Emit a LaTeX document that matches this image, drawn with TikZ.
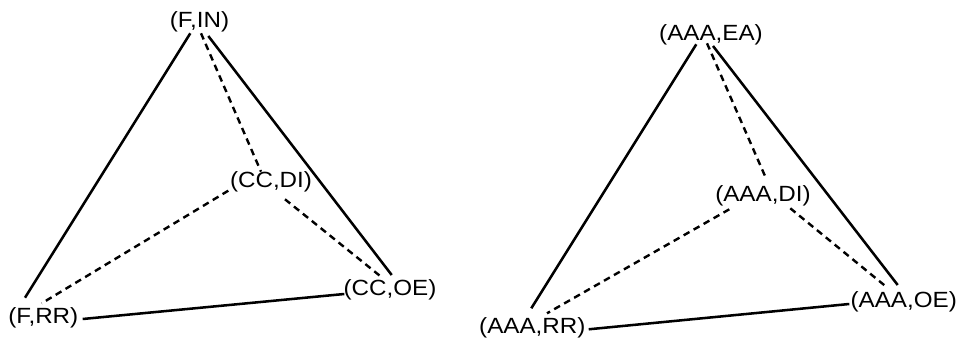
\documentclass[tikz,border=0pt]{standalone}
\usepackage{fontspec}
\usetikzlibrary{calc}
\newfontfamily\lblfont[FakeStretch=1.1]{Liberation Sans}

\begin{document}
\begin{tikzpicture}[x=0.75pt,y=-0.75pt,
 vtx/.style={inner sep=0pt,font=\lblfont\fontsize{16.5}{19}\selectfont},
 edge/.style={line width=1.9pt},
 hidden/.style={line width=1.8pt,dash pattern=on 5pt off 3.6pt}]
\useasboundingbox (0,0) rectangle (957,341);
% left tetrahedron
\node[vtx] (fin) at (199.5,21.5) {(F,IN)};
\node[vtx] (ccdi) at (271,182) {(CC,DI)};
\node[vtx] (ccoe) at (390,290) {(CC,OE)};
\node[vtx] (frr) at (43.3,318.3) {(F,RR)};
\draw[edge] ($(fin.center)+(-9.2,11.8)$)--($(frr.center)+(-18.3,-20.6)$);
\draw[edge] ($(fin.center)+(8.8,14.5)$)--($(ccoe.center)+(1.7,-15)$);
\draw[edge] ($(frr.center)+(39.4,0.7)$)--($(ccoe.center)+(-45.7,4)$);
\draw[hidden] ($(fin.center)+(1.5,11.8)$)--($(ccdi.center)+(-10,-10.3)$);
\draw[hidden] ($(ccdi.center)+(-42.7,8.7)$)--($(frr.center)+(-1.6,-15)$);
\draw[hidden] ($(ccdi.center)+(14,17.3)$)--($(ccoe.center)+(-9,-13.3)$);
% right tetrahedron
\node[vtx] (aea) at (711,35) {(AAA,EA)};
\node[vtx] (adi) at (763,196) {(AAA,DI)};
\node[vtx] (aoe) at (903.7,301.7) {(AAA,OE)};
\node[vtx] (arr) at (532.3,328.3) {(AAA,RR)};
\draw[edge] ($(aea.center)+(-14.7,9.3)$)--($(arr.center)+(-1,-20)$);
\draw[edge] ($(aea.center)+(2,11)$)--($(aoe.center)+(-6,-16.7)$);
\draw[edge] ($(arr.center)+(56.4,1)$)--($(aoe.center)+(-54.4,2.3)$);
\draw[hidden] ($(aea.center)+(-4,8.3)$)--($(adi.center)+(3.3,-17)$);
\draw[hidden] ($(adi.center)+(-33.7,13.3)$)--($(arr.center)+(14.7,-15)$);
\draw[hidden] ($(adi.center)+(27.3,12.3)$)--($(aoe.center)+(-18.4,-15.7)$);
\end{tikzpicture}
\end{document}
